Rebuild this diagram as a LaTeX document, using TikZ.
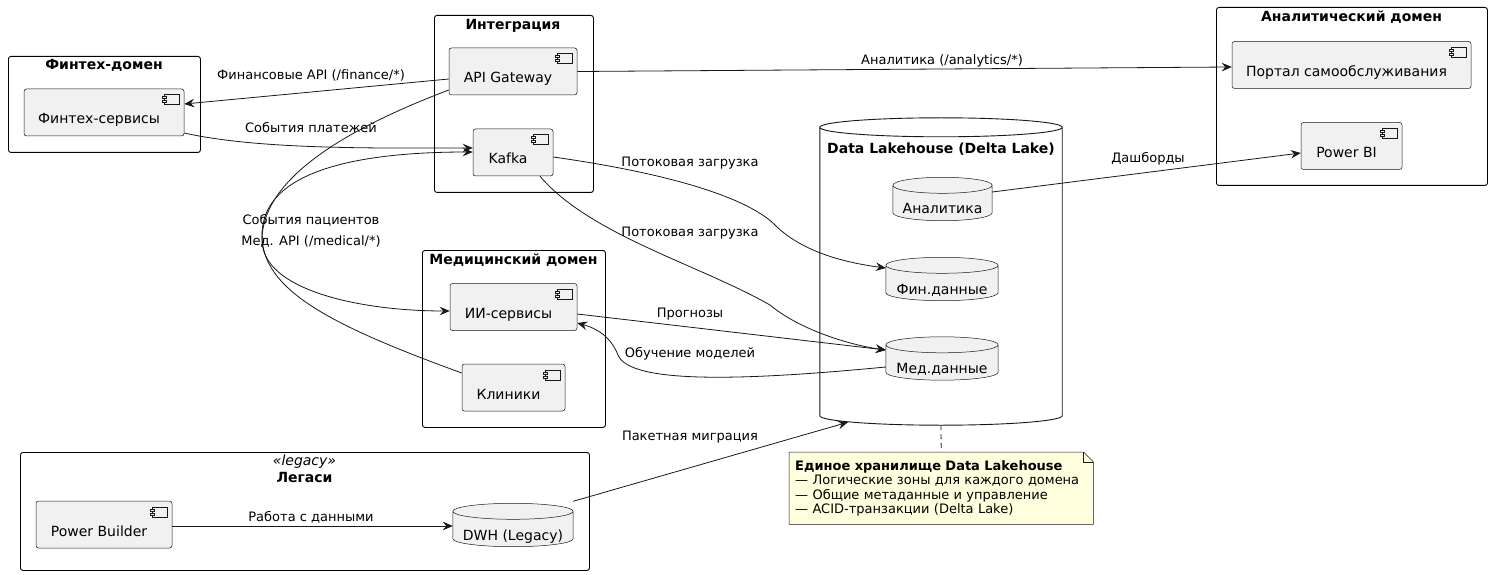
\documentclass[tikz,border=0pt]{standalone}
\usepackage{fontspec}
\setmainfont{DejaVu Sans}
\usetikzlibrary{arrows.meta,calc}
\definecolor{compfill}{HTML}{F1F1F1}
\definecolor{bord}{HTML}{181818}
\definecolor{notefill}{HTML}{FEFFDD}
\pgfdeclarelayer{background}
\pgfsetlayers{background,main}

\newcommand\cylshape[4]{%
  \draw[line width=#4,draw=bord,fill=#3] let \p1=(#1.north west), \p2=(#1.south east), \n1={(\x2-\x1)/2} in
    (\x1,\y1-#2) -- (\x1,\y2+#2)
    arc[start angle=180,end angle=360,x radius=\n1,y radius=#2]
    -- (\x2,\y1-#2)
    arc[start angle=0,end angle=180,x radius=\n1,y radius=#2]
    -- cycle
    (\x1,\y1-#2) arc[start angle=180,end angle=360,x radius=\n1,y radius=#2];}

\newcommand\compicon[1]{%
  \draw[line width=0.5pt,draw=bord,fill=compfill] ([xshift=-20pt,yshift=-6pt]#1.north east) rectangle ++(15pt,-10pt);
  \draw[line width=0.5pt,draw=bord,fill=compfill] ([xshift=-22pt,yshift=-8pt]#1.north east) rectangle ++(4pt,-2pt);
  \draw[line width=0.5pt,draw=bord,fill=compfill] ([xshift=-22pt,yshift=-12pt]#1.north east) rectangle ++(4pt,-2pt);}

\begin{document}
\begin{tikzpicture}[x=1pt,y=-1pt,
  pkg/.style={rectangle,draw=black,line width=0.9pt,rounded corners=2.5pt,inner sep=0pt,anchor=north west},
  pkgtitle/.style={anchor=base,inner sep=0pt,font=\fontsize{14}{16}\selectfont\bfseries},
  comp/.style={rectangle,rounded corners=2.5pt,draw=bord,line width=0.5pt,fill=compfill,minimum height=47pt,inner sep=2pt,text height=26pt,text depth=3pt,font=\fontsize{14}{16}\selectfont},
  cyl/.style={rectangle,draw=none,inner sep=2pt,minimum height=43pt,text height=33pt,text depth=3pt,font=\fontsize{14}{16}\selectfont},
  elabel/.style={anchor=base,inner sep=0pt,font=\fontsize{13}{15}\selectfont},
  conn/.style={line width=0.8pt,draw=bord},
  arr/.style={conn,-{Stealth[length=10pt,width=8.5pt,inset=3.5pt]}},
]
\useasboundingbox (0,0) rectangle (1492,575);

% packages
\node[pkg,minimum width=192pt,minimum height=96pt] (fintechP) at (8,56) {};
\node[pkgtitle] (fintechT) at (104,70) {Финтех-домен};
\node[pkg,minimum width=159pt,minimum height=177pt] (integP) at (434,15) {};
\node[pkgtitle] (integT) at (513,29.5) {Интеграция};
\node[pkg,minimum width=183pt,minimum height=177pt] (medP) at (422,250) {};
\node[pkgtitle] (medT) at (513.5,264) {Медицинский домен};
\node[pkg,minimum width=271pt,minimum height=178pt] (anP) at (1216,7) {};
\node[pkgtitle] (anT) at (1351.5,22) {Аналитический домен};
\node[pkg,minimum width=569pt,minimum height=118pt] (legP) at (20,452) {};
\node[anchor=base,inner sep=0pt,font=\fontsize{14}{16}\selectfont\itshape] (legS) at (304.5,465) {«legacy»};
\node[pkgtitle] (legT) at (304.5,482) {Легаси};

% lakehouse
\node[rectangle,draw=none,minimum width=242pt,minimum height=307pt,inner sep=0pt] (lake) at (941,271.5) {};
\node[pkgtitle] (lakeT) at (941,154) {Data Lakehouse (Delta Lake)};

% components
\node[comp,minimum width=160pt] (fin) at (104,112.5) {Финтех-сервисы\hspace*{10pt}};
\node[comp,minimum width=128pt] (api) at (513,71.5) {API Gateway\hspace*{10pt}};
\node[comp,minimum width=80pt] (kafka) at (513,152.5) {Kafka\hspace*{10pt}};
\node[comp,minimum width=127pt] (ai) at (513.5,307) {ИИ-сервисы\hspace*{10pt}};
\node[comp,minimum width=103pt] (clin) at (513.5,387.5) {Клиники\hspace*{10pt}};
\node[comp,minimum width=239pt] (portal) at (1351.5,65) {Портал самообслуживания\hspace*{10pt}};
\node[comp,minimum width=101pt] (pbi) at (1351.5,146) {Power BI\hspace*{10pt}};
\node[comp,minimum width=136pt] (pb) at (104,524.5) {Power Builder\hspace*{10pt}};
\foreach \n in {fin,api,kafka,ai,clin,portal,pbi,pb} {\compicon{\n}}

% databases
\node[cyl,minimum width=99pt] (anl) at (942.5,199) {Аналитика};
\node[cyl,minimum width=112pt] (findat) at (942,279) {Фин.данные};
\node[cyl,minimum width=112pt] (meddat) at (942,358.5) {Мед.данные};
\node[cyl,minimum width=120pt] (dwh) at (513,525) {DWH (Legacy)};

% note
\node[anchor=north west,draw=none,text width=292pt,inner xsep=6pt,inner ysep=5pt,minimum height=72pt,align=left,font=\fontsize{13}{14.5}\selectfont] (note) at (789,452)
  {\textbf{Единое хранилище Data Lakehouse}\\— Логические зоны для каждого домена\\— Общие метаданные и управление\\— ACID-транзакции (Delta Lake)};

\begin{pgfonlayer}{background}
  \cylshape{lake}{9.5pt}{white}{0.9pt}
  \cylshape{anl}{8pt}{compfill}{0.5pt}
  \cylshape{findat}{8pt}{compfill}{0.5pt}
  \cylshape{meddat}{8pt}{compfill}{0.5pt}
  \cylshape{dwh}{8pt}{compfill}{0.5pt}
  \draw[line width=0.5pt,draw=bord,fill=notefill] (note.north west) -- ([xshift=-10pt]note.north east) -- ([yshift=-10pt]note.north east) -- (note.south east) -- (note.south west) -- cycle;
  \draw[line width=0.5pt,draw=bord] ([xshift=-10pt]note.north east) |- ([yshift=-10pt]note.north east);
\end{pgfonlayer}

% connectors
\draw[arr] ([yshift=-7.5pt]api.west) -- ([yshift=8.5pt]fin.east);
\draw[arr] ([yshift=-20.5pt]fin.east) .. controls (260,150) and (380,148) .. ([yshift=4.5pt]kafka.west);
\draw[arr] ([yshift=-18.5pt]api.west) .. controls (330,135) and (262,185) .. (262,240) .. controls (262,290) and (360,311) .. ([yshift=-4pt]ai.west);
\draw[arr] ([yshift=14.5pt]clin.west) .. controls (330,325) and (262,290) .. (262,235) .. controls (262,170) and (360,152) .. ([yshift=0.5pt]kafka.west);
\draw[arr] (api.east) -- ([yshift=-2pt]portal.west);
\draw[arr] ([yshift=-4.5pt]kafka.east) .. controls (680,175) and (750,200) .. (775,225) .. controls (800,250) and (840,262) .. ([yshift=11pt]findat.west);
\draw[arr] ([xshift=27pt]kafka.south) .. controls (590,235) and (700,265) .. (770,305) .. controls (800,330) and (850,345) .. ([yshift=8.5pt]meddat.west);
\draw[arr] ([yshift=-7pt]ai.east) -- ([yshift=8.5pt]meddat.west);
\draw[arr] ([yshift=-8.5pt]meddat.west) .. controls (750,380) and (630,385) .. (618,355) .. controls (610,335) and (595,328) .. ([yshift=-16pt]ai.east);
\draw[arr] ([yshift=7pt]anl.east) -- ([yshift=-7pt]pbi.west);
\draw[arr] ([yshift=-1.5pt]pb.east) -- ([yshift=-1pt]dwh.west);
\draw[arr] ([yshift=2pt]dwh.north east) -- ([xshift=-93pt,yshift=3pt]lake.south);
\draw[conn,dash pattern=on 5pt off 4pt] (lake.south) -- (note.north);

% edge labels
\node[elabel] (l1) at (311,80) {Финансовые API (/finance/*)};
\node[elabel] (l2) at (311,133) {События платежей};
\node[elabel] (l3) at (311,224) {События пациентов};
\node[elabel] (l4) at (311,245) {Мед. API (/medical/*)};
\node[elabel] (l5) at (942,65) {Аналитика (/analytics/*)};
\node[elabel] (l6) at (690,167) {Потоковая загрузка};
\node[elabel] (l7) at (690,236) {Потоковая загрузка};
\node[elabel] (l8) at (690,317) {Прогнозы};
\node[elabel] (l9) at (690,357) {Обучение моделей};
\node[elabel] (l10) at (1148,163) {Дашборды};
\node[elabel] (l11) at (311,521) {Работа с данными};
\node[elabel] (l12) at (690,440) {Пакетная миграция};
\end{tikzpicture}
\end{document}
